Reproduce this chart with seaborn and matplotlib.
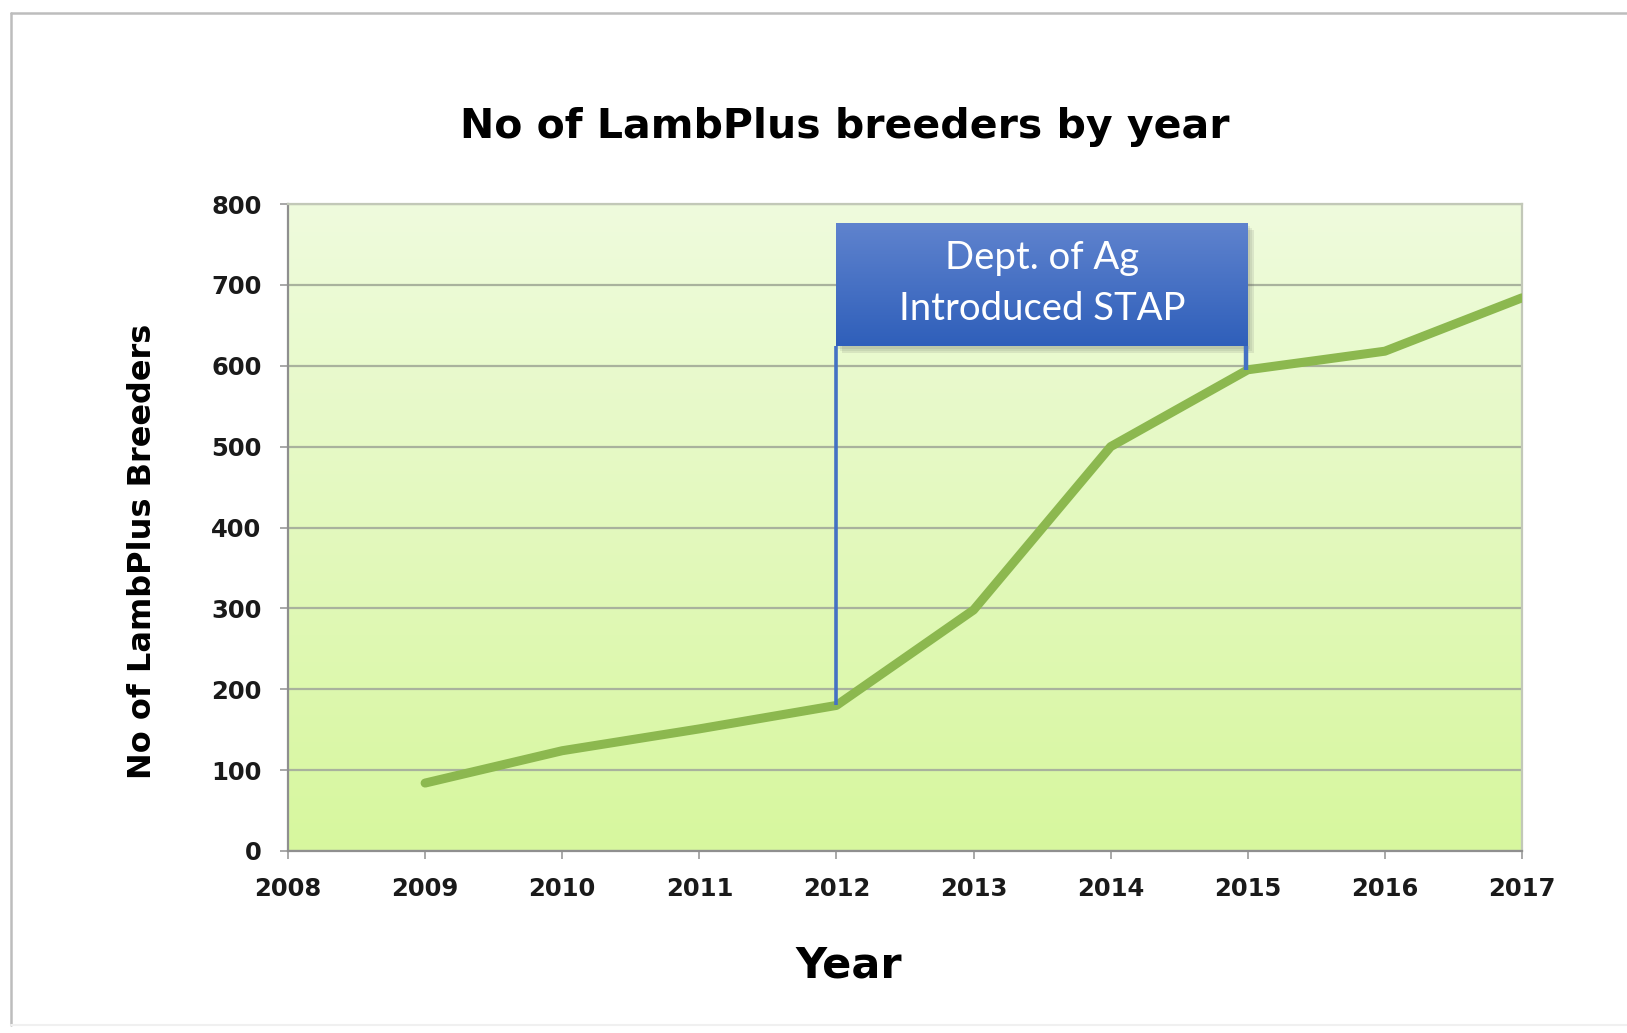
import numpy as np
import matplotlib
matplotlib.use("Agg")
import matplotlib.pyplot as plt
import matplotlib.patches as mpatches
import matplotlib.lines as mlines
import matplotlib.transforms as mtransforms
from matplotlib.colors import LinearSegmentedColormap
import pandas as pd
import seaborn as sns

# Chart data
years = [2009, 2010, 2011, 2012, 2013, 2014, 2015, 2016, 2017]
breeders = [84, 124, 151, 180, 298, 500, 595, 618, 684]
x_ticks = list(range(2008, 2018))
y_ticks = list(range(0, 801, 100))

# Annotation (STAP introduced between these years)
stap_start, stap_end = 2012, 2015
stap_text = "Dept. of Ag\nIntroduced STAP"

df = pd.DataFrame({"year": years, "breeders": breeders})

sns.set_style("white")
plt.rcParams["font.family"] = ["DejaVu Sans"]

fig = plt.figure(figsize=(16.27, 10.33), dpi=100)
ax = fig.add_axes([288 / 1627, 1 - 851 / 1033, (1522 - 288) / 1627, (851 - 204) / 1033])

# Outer slide frame: left and top grey, bottom very faint
fx0, fy_top, fy_bot = 11 / 1627, 1 - 13 / 1033, 1 - 1025 / 1033
fig.lines.append(mlines.Line2D([fx0, fx0], [fy_bot, fy_top], transform=fig.transFigure,
                               color="#bdbdbd", linewidth=1.8))
fig.lines.append(mlines.Line2D([fx0, 1.0], [fy_top, fy_top], transform=fig.transFigure,
                               color="#bdbdbd", linewidth=1.8))
fig.lines.append(mlines.Line2D([fx0, 1.0], [fy_bot, fy_bot], transform=fig.transFigure,
                               color="#f0f0f0", linewidth=1.5))

# Plot area gradient background
bg_cmap = LinearSegmentedColormap.from_list("bg", ["#d7f79e", "#effbdd"])
ax.imshow(np.linspace(0, 1, 256).reshape(-1, 1), extent=[x_ticks[0], x_ticks[-1], 0, 800],
          origin="lower", aspect="auto", cmap=bg_cmap, zorder=-1)

# Main line
sns.lineplot(data=df, x="year", y="breeders", color="#8cb84f", linewidth=6.5,
             ax=ax, zorder=4, solid_capstyle="round")

# Annotation box with soft shadow and blue gradient
box_bottom, box_top = 625, 776
for k, a in enumerate([0.10, 0.10, 0.12]):
    sh = mpatches.Rectangle((stap_start, box_bottom), stap_end - stap_start, box_top - box_bottom,
                            transform=mtransforms.offset_copy(ax.transData, fig=fig,
                                                              x=2 + 2 * k, y=-3 - 2 * k, units="dots"),
                            facecolor="#555555", alpha=a, edgecolor="none", zorder=5)
    ax.add_patch(sh)
box_cmap = LinearSegmentedColormap.from_list("box", ["#2f5fba", "#5f83ce"])
ax.imshow(np.linspace(0, 1, 256).reshape(-1, 1),
          extent=[stap_start, stap_end, box_bottom, box_top],
          origin="lower", aspect="auto", cmap=box_cmap, zorder=6)
ax.text((stap_start + stap_end) / 2, (box_bottom + box_top) / 2 + 1, stap_text,
        ha="center", va="center", color="white", fontsize=27.5, family="Lato",
        linespacing=1.5, zorder=7)

# Connector lines from box down to the data line
val_start = breeders[years.index(stap_start)]
val_end = breeders[years.index(stap_end)]
ax.plot([stap_start, stap_start], [box_bottom, val_start], color="#4472c4", linewidth=2.6,
        zorder=5, solid_capstyle="butt")
ax.plot([stap_end - 0.015, stap_end - 0.015], [box_bottom, val_end], color="#4472c4",
        linewidth=3.2, zorder=5, solid_capstyle="butt")

# Axes styling
ax.set_xlim(x_ticks[0], x_ticks[-1])
ax.set_ylim(0, 800)
ax.set_xticks(x_ticks)
ax.set_yticks(y_ticks)
ax.set_xticklabels([str(t) for t in x_ticks])
ax.set_yticklabels([str(t) for t in y_ticks])
ax.grid(axis="y", color="#a9b29d", linewidth=1.6)
ax.grid(axis="x", visible=False)
ax.set_axisbelow(True)
ax.tick_params(axis="both", which="major", length=6, width=1.2, color="#9a9a9a",
               labelsize=17.5, labelcolor="#1a1a1a", pad=13, direction="out",
               bottom=True, left=True)
for lbl in ax.get_xticklabels() + ax.get_yticklabels():
    lbl.set_fontweight("bold")
for side in ["left", "bottom"]:
    ax.spines[side].set_color("#8f8f8f")
    ax.spines[side].set_linewidth(1.6)
ax.spines["right"].set_color("#c2c8b8")
ax.spines["right"].set_linewidth(1.6)
ax.spines["top"].set_color("#c2c8b8")
ax.spines["top"].set_linewidth(1.6)

ax.set_xlabel("Year", fontsize=31, fontweight="bold", color="black")
ax.xaxis.set_label_coords((849 - 288) / 1234, (851 - 945) / 647)
ax.set_ylabel("No of LambPlus Breeders", fontsize=23, fontweight="bold", color="black")
ax.yaxis.set_label_coords((158 - 288) / 1234, (851 - 551) / 647)
fig.text(845 / 1627, 1 - 127 / 1033, "No of LambPlus breeders by year",
         ha="center", va="center", fontsize=29.5, fontweight="bold", color="black")

fig.savefig("out.png", dpi=100, facecolor="white")
